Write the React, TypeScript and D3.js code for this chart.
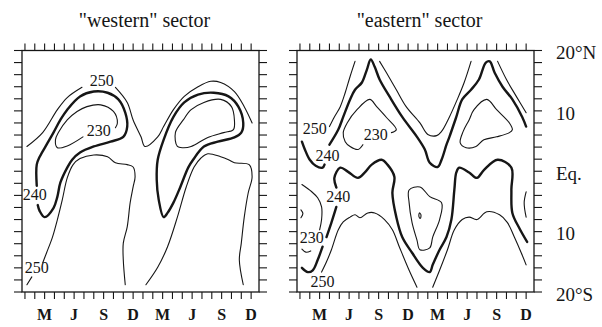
import React from 'react';
import * as d3 from 'd3';

// points are [month index counted from Jan of year 1, latitude in degrees]
type Pt = [number, number];

const monthTicks = d3.range(24);
const monthLabels = [
	{ m: 2, t: 'M' }, { m: 5, t: 'J' }, { m: 8, t: 'S' }, { m: 11, t: 'D' },
	{ m: 14, t: 'M' }, { m: 17, t: 'J' }, { m: 20, t: 'S' }, { m: 23, t: 'D' },
];
const latTicks = d3.range(-20, 21, 2);
const latLabels = [
	{ lat: 20, t: '20°N' }, { lat: 10, t: '10' }, { lat: 0, t: 'Eq.' },
	{ lat: -10, t: '10' }, { lat: -20, t: '20°S' },
];

// ---- "western" sector contours ----
const w250upA: Pt[] = [[0.2, 4.1], [1.8, 6.4], [3.3, 10.2], [4.3, 12.2], [5.8, 13.9]];
const w250upB: Pt[] = [[9.2, 13.9], [10.4, 11.4], [11.0, 8.5], [11.8, 5.7], [12.2, 4.1], [13.5, 5.7], [14.1, 7.4], [15.1, 10.2], [16.2, 12.4], [17.6, 14.0], [18.9, 14.9], [19.9, 14.7], [21.3, 13.2], [22.3, 10.7], [23.1, 8.0]];
const w240a: Pt[] = [[1.2, -2.4], [1.2, 1.1], [1.5, 2.4], [2.2, 4.4], [2.9, 6.4], [3.6, 8.5], [4.3, 10.2], [5.6, 12.4], [7.0, 13.2], [8.4, 13.0], [9.5, 11.9], [10.2, 9.7], [10.4, 7.4], [10.0, 5.7], [8.7, 4.9], [7.0, 4.1], [5.6, 3.1], [4.8, 1.9], [4.3, 0.6], [3.6, -1.9], [3.3, -4.2], [2.9, -6.1], [2.0, -7.6], [1.5, -6.6], [1.3, -5.6]];
const w230a: Pt[] = [[5.9, 5.7], [4.3, 4.2], [3.3, 3.9], [3.1, 5.2], [3.4, 6.4], [4.3, 8.5], [5.3, 9.9], [6.3, 10.7], [7.7, 11.0], [9.0, 9.9], [9.4, 8.0], [9.2, 7.2]];
const w250loA1: Pt[] = [[0.2, -18.8], [0.7, -17.5]];
const w250loA2: Pt[] = [[1.8, -15.2], [2.2, -13.5], [2.8, -10.9], [3.3, -8.0], [3.8, -4.7], [4.3, -1.1], [4.9, 1.1], [5.6, 2.1], [7.0, 2.7], [8.4, 2.4], [9.2, 1.4], [10.4, 1.1], [11.0, 0.7], [11.2, -0.9], [11.0, -2.6], [10.7, -5.2], [10.4, -9.2], [10.0, -11.9], [10.0, -14.7], [10.2, -18.8]];
const w240b: Pt[] = [[13.5, 1.9], [13.4, -1.4], [13.6, -4.7], [14.1, -7.6], [14.5, -6.9], [15.1, -5.2], [15.8, -2.6], [16.6, 0.6], [17.1, 1.9], [18.2, 4.1], [19.6, 4.9], [21.3, 5.6], [22.0, 6.4], [22.2, 8.0], [21.7, 10.7], [20.7, 12.4], [19.2, 13.0], [17.6, 12.7], [16.2, 11.4], [15.1, 9.0], [14.1, 5.2]];
const w230b: Pt[] = [[15.5, 4.1], [15.3, 6.4], [16.1, 8.5], [16.9, 10.2], [18.2, 11.4], [19.9, 11.9], [21.0, 10.7], [21.3, 8.5], [21.2, 6.9], [20.2, 6.4], [18.6, 5.6], [16.9, 4.1], [16.1, 3.9]];
const w250loB: Pt[] = [[12.3, -18.8], [13.5, -15.9], [14.5, -12.5], [15.5, -7.6], [16.4, -2.6], [17.2, 0.7], [17.9, 2.2], [18.6, 2.9], [19.9, 2.4], [20.7, 1.9], [21.3, 1.4], [22.8, 1.1], [23.1, -0.9], [22.7, -3.6], [22.3, -7.6], [22.0, -11.9], [21.8, -14.7], [22.2, -18.8]];

// ---- "eastern" sector contours ----
const e250upA: Pt[] = [[3.0, 7.4], [3.5, 9.0], [4.1, 10.7], [4.6, 13.0], [5.1, 15.7], [5.6, 18.2]];
const e250upB: Pt[] = [[8.1, 18.2], [8.8, 16.3], [9.8, 13.5], [10.8, 10.7], [12.2, 8.0], [13.0, 6.1], [13.9, 5.9], [14.4, 6.6], [15.2, 9.0], [16.0, 11.9], [16.7, 14.7], [17.4, 18.2]];
const e250upC: Pt[] = [[20.1, 18.2], [21.0, 15.2], [22.0, 12.4], [23.0, 9.7]];
const e240upA: Pt[] = [[0.2, 4.9], [0.5, 3.6], [1.0, 1.9], [1.6, 0.9], [2.3, 0.6], [2.5, 1.1]];
const e240upB: Pt[] = [[3.0, 4.4], [3.9, 6.9], [4.4, 9.0], [5.1, 11.9], [5.6, 13.5], [6.3, 14.7], [6.8, 16.8], [7.2, 18.5], [7.6, 17.3], [8.1, 15.2], [9.1, 12.4], [10.4, 9.0], [11.9, 5.7], [12.7, 3.6], [13.2, 1.4], [14.0, 0.7], [14.4, 1.9], [14.9, 4.4], [15.2, 5.7], [15.9, 9.0], [16.5, 11.9], [17.4, 13.5], [18.2, 15.2], [18.9, 18.0], [19.3, 18.2], [19.8, 16.3], [20.6, 14.0], [21.6, 11.9], [22.6, 9.0], [23.0, 7.4]];
const e230upA: Pt[] = [[6.4, 4.4], [5.9, 3.6], [5.1, 4.1], [4.6, 4.9], [4.4, 6.4], [4.8, 8.0], [5.8, 10.2], [7.1, 11.9], [7.8, 10.7], [8.8, 8.9], [9.8, 6.9], [9.3, 6.4]];
const e230upB: Pt[] = [[17.2, 8.5], [17.7, 10.2], [19.0, 11.9], [20.0, 10.2], [21.3, 8.0], [21.6, 6.9], [21.3, 6.4], [20.0, 5.7], [18.7, 5.2], [17.9, 4.1], [16.9, 3.9], [16.3, 4.7], [16.6, 6.6]];
const e240loA: Pt[] = [[0.2, -16.0], [0.8, -16.7], [1.3, -16.4], [1.8, -14.7], [2.3, -12.5]];
const e240loB: Pt[] = [[2.7, -10.9], [3.2, -8.5], [3.7, -5.9]];
const e240loC: Pt[] = [[3.7, -2.7], [3.5, -1.1], [4.1, 0.6], [4.9, -0.1], [5.9, -1.1], [6.6, -0.2], [7.3, 1.1], [8.3, 1.9], [8.9, 1.1], [9.6, -0.9], [9.4, -3.6], [9.8, -7.6], [10.4, -10.9], [11.4, -13.5], [12.5, -16.0], [13.2, -16.7], [13.5, -15.5], [14.2, -13.0], [14.9, -10.9], [15.4, -8.0], [15.7, -3.1], [15.9, -0.2], [16.2, 0.6], [17.2, -0.2], [18.0, -1.1], [18.7, 0.2], [20.1, 1.9], [21.5, 0.6], [21.5, -3.1], [21.6, -6.9], [22.3, -9.4], [23.1, -11.7]];
const e230loA: Pt[] = [[0.2, -2.2], [1.2, -3.4], [1.8, -4.4], [2.2, -5.9], [2.2, -8.0], [2.0, -9.7]];
const e230blip: Pt[] = [[0.1, -6.4], [0.3, -7.0], [0.1, -7.7]];
const e230dash: Pt[] = [[0.2, -12.9], [0.6, -13.4], [1.1, -13.2]];
const e230loB: Pt[] = [[11.1, -3.1], [12.2, -2.6], [13.2, -4.2], [14.4, -5.2], [14.2, -8.0], [13.5, -10.9], [13.2, -12.7], [12.2, -13.0], [11.9, -11.4], [11.4, -8.5], [11.1, -5.2]];
const e220dot: Pt[] = [[12.15, -6.9], [12.3, -7.2], [12.25, -7.8], [12.1, -7.5]];
const e230arc: Pt[] = [[23.0, -3.4], [22.8, -5.2], [23.0, -7.6]];
const e250loA: Pt[] = [[2.2, -16.7], [2.7, -15.0], [3.2, -13.0], [3.9, -9.7], [4.4, -8.4], [5.1, -7.6], [5.6, -7.2], [6.1, -7.7], [6.9, -6.9], [7.6, -6.9], [8.6, -8.0], [9.4, -9.7], [10.1, -12.5], [11.1, -16.4], [11.9, -19.2]];
const e250loB: Pt[] = [[13.5, -19.2], [14.2, -16.4], [15.0, -13.0], [15.7, -9.7], [16.5, -8.0], [17.2, -7.6], [18.0, -8.0], [19.0, -6.7], [20.3, -7.2], [21.1, -8.5], [21.8, -10.9], [22.5, -13.5], [23.0, -15.5]];

const westContours = [
	{ level: 250, pts: w250upA }, { level: 250, pts: w250upB },
	{ level: 240, pts: w240a }, { level: 230, pts: w230a },
	{ level: 250, pts: w250loA1 }, { level: 250, pts: w250loA2 },
	{ level: 240, pts: w240b, closed: true }, { level: 230, pts: w230b, closed: true },
	{ level: 250, pts: w250loB },
];
const eastContours = [
	{ level: 250, pts: e250upA }, { level: 250, pts: e250upB }, { level: 250, pts: e250upC },
	{ level: 240, pts: e240upA }, { level: 240, pts: e240upB },
	{ level: 230, pts: e230upA }, { level: 230, pts: e230upB, closed: true },
	{ level: 240, pts: e240loA }, { level: 240, pts: e240loB }, { level: 240, pts: e240loC },
	{ level: 230, pts: e230loA }, { level: 230, pts: e230blip }, { level: 230, pts: e230dash },
	{ level: 230, pts: e230loB, closed: true }, { level: 220, pts: e220dot, closed: true },
	{ level: 230, pts: e230arc },
	{ level: 250, pts: e250loA }, { level: 250, pts: e250loB },
];

const westLabels = [
	{ m: 7.8, lat: 15.0, t: '250' }, { m: 7.5, lat: 6.7, t: '230' },
	{ m: 1.0, lat: -3.9, t: '240' }, { m: 1.2, lat: -16.0, t: '250' },
];
const eastLabels = [
	{ m: 1.5, lat: 7.1, t: '250' }, { m: 2.8, lat: 2.7, t: '240' }, { m: 7.7, lat: 6.1, t: '230' },
	{ m: 3.9, lat: -4.2, t: '240' }, { m: 1.2, lat: -11.0, t: '230' }, { m: 2.3, lat: -18.2, t: '250' },
];

const INK = '#161616';
const FONT = '"Liberation Serif", "Times New Roman", serif';
const PANEL_W = 237;
const TOP = 50.5;
const BOTTOM = 292;
const TICK = 8;

const yScale = d3.scaleLinear().domain([20, -20]).range([TOP, BOTTOM]);

function Panel({ left, title, contours, labels, latText }) {
	const x = d3.scaleLinear().domain([-0.3, 23.8]).range([left, left + PANEL_W]);
	const right = left + PANEL_W;
	const lineOpen = d3.line<Pt>().x((d) => x(d[0])).y((d) => yScale(d[1])).curve(d3.curveCatmullRom.alpha(0.5));
	const lineClosed = d3.line<Pt>().x((d) => x(d[0])).y((d) => yScale(d[1])).curve(d3.curveCatmullRomClosed.alpha(0.5));

	return (
		<g>
			<text x={(left + right) / 2 + 4} y={27} textAnchor="middle" fontFamily={FONT} fontSize={20} fill={INK}>
				{title}
			</text>
			<rect x={left} y={TOP} width={PANEL_W} height={BOTTOM - TOP} fill="none" stroke={INK} strokeWidth={1.3} />
			{monthTicks.map((m) => (
				<g key={'mt' + m}>
					<line x1={x(m)} x2={x(m)} y1={TOP} y2={TOP - 7} stroke={INK} strokeWidth={1.1} />
					<line x1={x(m)} x2={x(m)} y1={BOTTOM} y2={BOTTOM + 7} stroke={INK} strokeWidth={1.1} />
				</g>
			))}
			{latTicks.map((l) => (
				<g key={'lt' + l}>
					<line x1={left - TICK} x2={left} y1={yScale(l)} y2={yScale(l)} stroke={INK} strokeWidth={1.1} />
					<line x1={right} x2={right + TICK} y1={yScale(l)} y2={yScale(l)} stroke={INK} strokeWidth={1.1} />
				</g>
			))}
			{monthLabels.map((d, i) => (
				<text key={'ml' + i} x={x(d.m)} y={320} textAnchor="middle" fontFamily={FONT} fontSize={16} fontWeight="bold" fill={INK}>
					{d.t}
				</text>
			))}
			{contours.map((c, i) => (
				<path
					key={'c' + i}
					d={(c.closed ? lineClosed : lineOpen)(c.pts)}
					fill="none"
					stroke={INK}
					strokeWidth={c.level === 240 ? 2.4 : 1.1}
					strokeLinejoin="round"
					strokeLinecap="round"
				/>
			))}
			{labels.map((d, i) => (
				<text key={'cl' + i} x={x(d.m)} y={yScale(d.lat)} dy="0.35em" textAnchor="middle" fontFamily={FONT} fontSize={16} fill={INK}>
					{d.t}
				</text>
			))}
			{latText &&
				latLabels.map((d, i) => (
					<text key={'yl' + i} x={right + 22} y={yScale(d.lat) + 2} dy="0.35em" fontFamily={FONT} fontSize={19} fill={INK}>
						{d.t}
					</text>
				))}
		</g>
	);
}

export default function App() {
	return (
		<div style={{ position: 'absolute', left: 0, top: 0 }}>
			<svg width={602} height={327} style={{ display: 'block', background: '#fff' }}>
				<Panel left={22} title={'"western"  sector'} contours={westContours} labels={westLabels} latText={false} />
				<Panel left={297} title={'"eastern"  sector'} contours={eastContours} labels={eastLabels} latText={true} />
			</svg>
		</div>
	);
}
